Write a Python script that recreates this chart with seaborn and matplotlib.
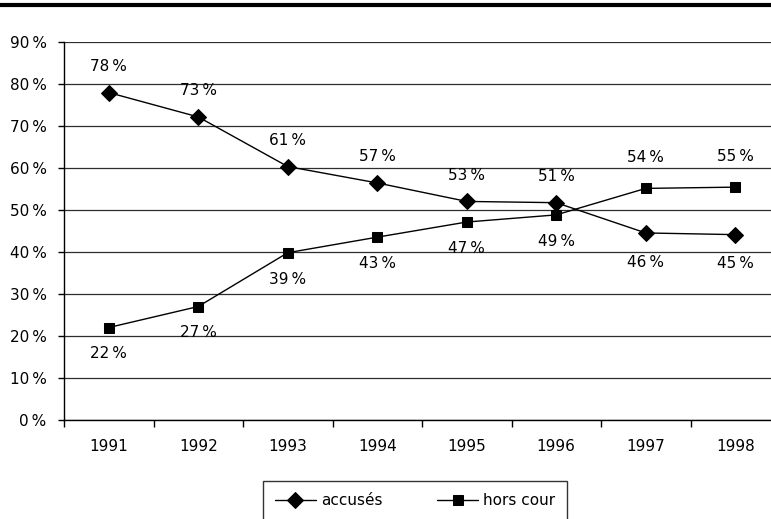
import matplotlib
matplotlib.use("Agg")
import matplotlib.pyplot as plt
from matplotlib.lines import Line2D
import pandas as pd
import seaborn as sns

years = [1991, 1992, 1993, 1994, 1995, 1996, 1997, 1998]
accuses = [77.9, 72.1, 60.3, 56.4, 52.0, 51.7, 44.5, 44.1]
hors_cour = [22.0, 27.0, 39.8, 43.5, 47.1, 48.8, 55.1, 55.4]
accuses_labels = [78, 73, 61, 57, 53, 51, 46, 45]
hors_cour_labels = [22, 27, 39, 43, 47, 49, 54, 55]
y_ticks = [0, 10, 20, 30, 40, 50, 60, 70, 80, 90]

sns.set_style("white")
plt.rcParams["font.family"] = ["DejaVu Sans"]
plt.rcParams["font.size"] = 11
plt.rcParams["text.color"] = "black"
plt.rcParams["xtick.color"] = "black"
plt.rcParams["ytick.color"] = "black"

df = pd.DataFrame({"annee": years, "accuses": accuses, "hors_cour": hors_cour})

fig = plt.figure(figsize=(7.71, 5.19), dpi=100)
ax = fig.add_axes([64 / 771, 99 / 519, 716 / 771, 378.3 / 519])

sns.lineplot(data=df, x="annee", y="accuses", ax=ax, color="black", lw=1,
             marker="D", markersize=8, markeredgecolor="black", label="accusés")
sns.lineplot(data=df, x="annee", y="hors_cour", ax=ax, color="black", lw=1,
             marker="s", markersize=7, markeredgecolor="black", label="hors cour")

# etiquettes : au-dessus pour la serie la plus haute, en dessous pour l'autre
for i, yr in enumerate(years):
    up = accuses[i] > hors_cour[i]
    ax.annotate(f"{accuses_labels[i]}\u2009%", (yr, accuses[i]),
                xytext=(0, 19 if up else -21), textcoords="offset points",
                ha="center", va="center", fontsize=11)
    ax.annotate(f"{hors_cour_labels[i]}\u2009%", (yr, hors_cour[i]),
                xytext=(0, -19 if up else 22), textcoords="offset points",
                ha="center", va="center", fontsize=11)

ax.set_xlim(years[0] - 0.5, years[-1] + 0.5)
ax.set_ylim(0, 90)
ax.set_xticks([y - 0.5 for y in years] + [years[-1] + 0.5])
ax.set_xticklabels([])
ax.set_xticks(years, [str(y) for y in years], minor=True)
ax.tick_params(axis="x", which="major", direction="out", length=5, width=1, color="black", bottom=True)
ax.tick_params(axis="x", which="minor", length=0, pad=14, labelsize=11, labelcolor="black")
ax.set_yticks(y_ticks, [f"{v}\u2009%" for v in y_ticks])
ax.tick_params(axis="y", direction="out", length=4.5, width=1, color="black", left=True, pad=8,
               labelsize=11, labelcolor="black")
ax.set_xlabel("")
ax.set_ylabel("")

ax.yaxis.grid(True, color="#2e2e2e", lw=0.9)
ax.set_axisbelow(True)
for s in ["top", "right"]:
    ax.spines[s].set_visible(False)
for s in ["left", "bottom"]:
    ax.spines[s].set_color("black")
    ax.spines[s].set_linewidth(1)

ax.legend(loc="upper center", bbox_to_anchor=(415 / 771, 1 - 481 / 519),
          bbox_transform=fig.transFigure, ncol=2, frameon=True, fancybox=False,
          edgecolor="black", handlelength=2.7, handletextpad=0.3, borderaxespad=0,
          columnspacing=3.6, borderpad=0.8, fontsize=11)
ax.get_legend().get_frame().set_linewidth(1)

# trait epais en haut de la page
fig.add_artist(Line2D([0, 1], [1 - 5 / 519, 1 - 5 / 519], color="black", lw=3, transform=fig.transFigure))

fig.savefig("out.png", dpi=100)
